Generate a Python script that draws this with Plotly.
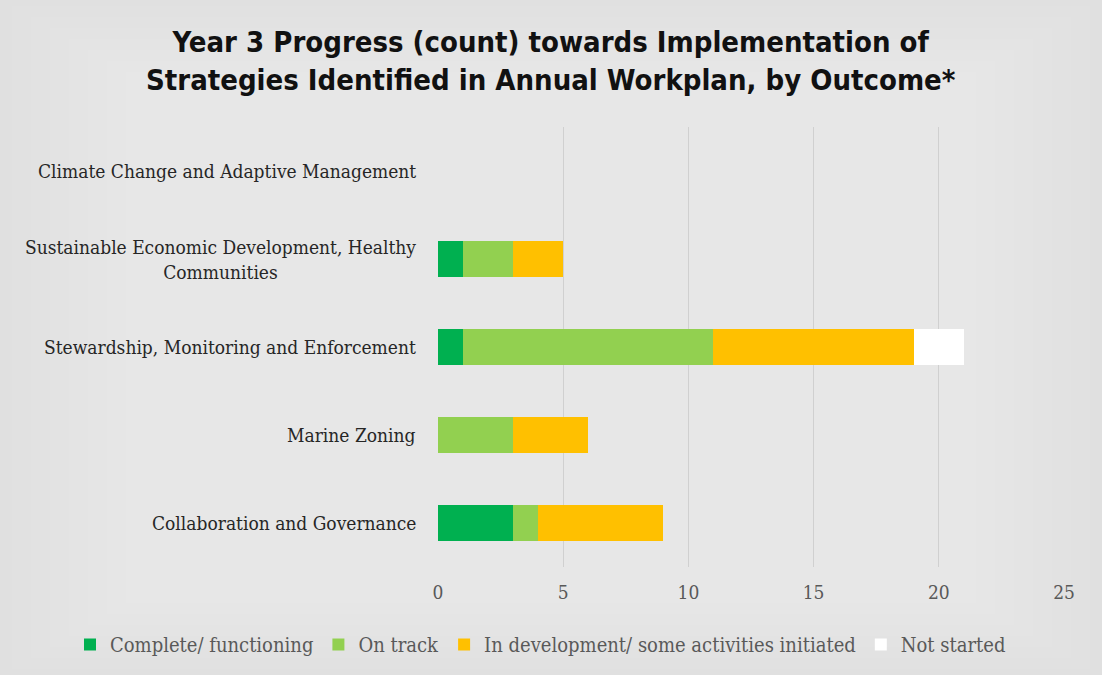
import plotly.graph_objects as go

categories = [
    "Collaboration and Governance",
    "Marine Zoning",
    "Stewardship, Monitoring and Enforcement",
    "Sustainable Economic Development, Healthy Communities",
    "Climate Change and Adaptive Management",
]
label_text = [
    "Collaboration and Governance",
    "Marine Zoning",
    "Stewardship, Monitoring and Enforcement",
    "Sustainable Economic Development, Healthy<br>Communities",
    "Climate Change and Adaptive Management",
]
complete = [3, 0, 1, 1, 0]
on_track = [1, 3, 10, 2, 0]
in_development = [5, 3, 8, 2, 0]
not_started = [0, 0, 2, 0, 0]

series_names = ["Complete/ functioning", "On track",
                "In development/ some activities initiated", "Not started"]
series_vals = [complete, on_track, in_development, not_started]
series_colors = ["#00b050", "#92d050", "#ffc000", "#ffffff"]

x_ticks = [0, 5, 10, 15, 20, 25]

label_font = "DejaVu Serif Condensed"

W, H = 1102, 675
L, R, T, B = 438, 38, 127, 108
pw, ph = W - L - R, H - T - B

fig = go.Figure()
for name, vals, col in zip(series_names, series_vals, series_colors):
    fig.add_trace(go.Bar(
        y=categories, x=vals, name=name, orientation="h",
        marker=dict(color=col, line=dict(width=0)),
    ))

# soft radial-like background gradient (lighter towards centre)
n_layers = 24
for i in range(n_layers):
    inset_x = 12 + i * 19
    inset_y = 6 + i * 11
    fig.add_shape(
        type="rect", xref="paper", yref="paper", layer="below",
        x0=(inset_x - L) / pw, x1=(W - inset_x - L) / pw,
        y0=(H - B - (H - inset_y)) / ph, y1=(H - B - inset_y) / ph,
        fillcolor="rgba(255,255,255,0.04)", line=dict(width=0),
    )

for cat, txt in zip(categories, label_text):
    fig.add_annotation(
        x=-20 / pw, xref="paper", y=cat, yref="y", text=txt,
        xanchor="right", yanchor="middle", align="center", showarrow=False,
        font=dict(family=label_font, size=19, color="#262626"),
    )

fig.add_annotation(
    text="<b>Year 3 Progress (count) towards Implementation of<br>Strategies Identified in Annual Workplan, by Outcome*</b>",
    x=(551 - L) / pw, xref="paper", y=(H - B - 61) / ph, yref="paper",
    xanchor="center", yanchor="middle", align="center", showarrow=False,
    font=dict(family="DejaVu Sans Condensed", size=29, color="#111111"),
)

fig.update_layout(
    width=W, height=H,
    barmode="stack", bargap=0.6,
    paper_bgcolor="#e0e0e0", plot_bgcolor="rgba(0,0,0,0)",
    margin=dict(l=L, r=R, t=T, b=B, autoexpand=False),
    xaxis=dict(
        range=[0, 25], tickvals=x_ticks, showgrid=True, gridcolor="#d0d0d0",
        gridwidth=1, zeroline=False, showline=False,
        tickfont=dict(family=label_font, size=19, color="#595959"),
        ticks="", ticklabelstandoff=12,
    ),
    yaxis=dict(
        categoryorder="array", categoryarray=categories,
        showticklabels=False, showgrid=False, zeroline=False, showline=False,
    ),
    legend=dict(
        orientation="h", x=(70 - L) / pw, xanchor="left", xref="paper",
        y=-(625 - (H - B)) / ph, yanchor="top", yref="paper",
        font=dict(family=label_font, size=20, color="#595959"),
        traceorder="normal", itemwidth=30, bgcolor="rgba(0,0,0,0)",
    ),
    showlegend=True,
)

fig.write_html("out.html")
